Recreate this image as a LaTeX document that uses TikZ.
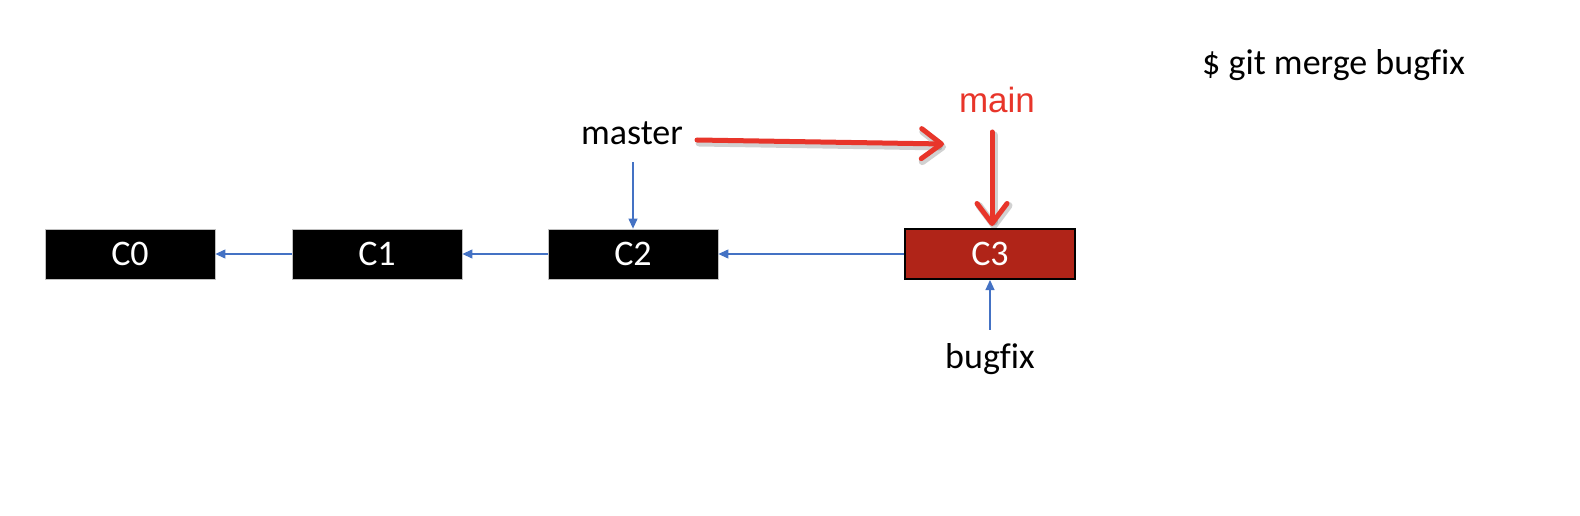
\documentclass[tikz,border=0pt]{standalone}
\usepackage{fontspec}
\setmainfont{Carlito}[Ligatures=NoCommon]
\newfontfamily\arialfont{Liberation Sans}
\usetikzlibrary{arrows.meta}
\definecolor{offblue}{HTML}{4472C4}
\definecolor{c3red}{HTML}{B02418}
\definecolor{markred}{HTML}{E8352A}
\tikzset{
  commit/.style={minimum width=170pt, minimum height=50pt, inner sep=0pt, text=white, font=\fontsize{36}{42}\selectfont},
  blackcommit/.style={commit, fill=black, draw=black!25, line width=0.8pt},
  redcommit/.style={commit, fill=c3red, draw=black, line width=2pt},
  label/.style={inner sep=0pt, anchor=base, font=\fontsize{36}{42}\selectfont},
  bluearrow/.style={draw=offblue, line width=1.1pt, -{Triangle[length=10pt,width=9pt]}},
  redarrow/.style={draw=markred, line width=5pt, line cap=round, -{Straight Barb[length=20pt,width=30pt,line cap=round,round]}},
  redshadow/.style={draw=black, opacity=0.18, line width=7pt, line cap=round, -{Straight Barb[length=20pt,width=30pt,line cap=round,round]}}
}
\begin{document}
\begin{tikzpicture}[x=1pt,y=-1pt]
\useasboundingbox[fill=white] (0,0) rectangle (1580,516);
\node[blackcommit] (C0) at (130,254) {C0};
\node[blackcommit] (C1) at (377,254) {C1};
\node[blackcommit] (C2) at (633,254) {C2};
\node[redcommit] (C3) at (990,254) {C3};
\node[label] (master) at (632,145) {master};
\node[label, text=markred, font=\arialfont\fontsize{35}{42}\selectfont] (main) at (997,113) {main};
\node[label] (bugfix) at (990,368) {bugfix};
\node[label, anchor=base west] (cmd) at (1202,75) {\$ git merge bugfix};
\draw[bluearrow] (C1.west) -- (C0.east);
\draw[bluearrow] (C2.west) -- (C1.east);
\draw[bluearrow] (C3.west) -- (C2.east);
\draw[bluearrow] ([yshift=-17pt]master.south -| C2.north) -- (C2.north);
\draw[bluearrow] ([yshift=13pt]bugfix.north) -- (C3.south);
\coordinate (rs) at (697,140);
\coordinate (re) at (944,144);
\coordinate (vs) at (992,132);
\coordinate (ve) at (992,226);
\draw[redshadow] ([shift={(2pt,-3pt)}]rs) -- ([shift={(2pt,-3pt)}]re);
\draw[redshadow] ([shift={(2pt,-3pt)}]vs) -- ([shift={(2pt,-3pt)}]ve);
\draw[redarrow] (rs) -- (re);
\draw[redarrow] (vs) -- (ve);
\end{tikzpicture}
\end{document}
